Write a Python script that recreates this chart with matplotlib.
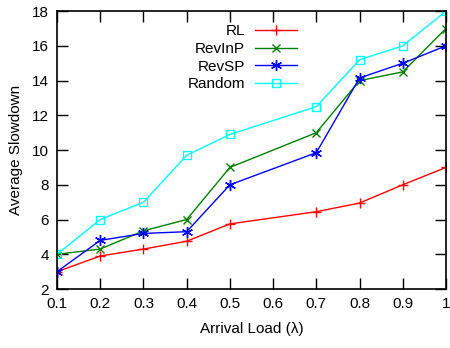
import matplotlib
matplotlib.use("Agg")
import matplotlib.pyplot as plt

plt.rcParams['font.family'] = ['Liberation Sans', 'DejaVu Sans']

x = [0.1, 0.2, 0.3, 0.4, 0.5, 0.7, 0.8, 0.9, 1.0]
rl = [3.0, 3.9, 4.3, 4.75, 5.75, 6.45, 6.95, 8.0, 9.0]
revinp = [4.0, 4.3, 5.35, 6.0, 9.0, 11.0, 14.0, 14.5, 17.0]
revsp = [3.0, 4.8, 5.2, 5.3, 8.0, 9.85, 14.15, 15.0, 16.0]
rnd = [4.0, 6.0, 7.0, 9.7, 10.9, 12.5, 15.2, 16.0, 18.0]
xticks = [0.1, 0.2, 0.3, 0.4, 0.5, 0.6, 0.7, 0.8, 0.9, 1.0]
xticklabels = ['0.1', '0.2', '0.3', '0.4', '0.5', '0.6', '0.7', '0.8', '0.9', '1']
yticks = [2, 4, 6, 8, 10, 12, 14, 16, 18]

fig = plt.figure(figsize=(4.5, 3.48), dpi=100)
ax = fig.add_axes([0.1267, 0.1695, 0.991 - 0.1267, 0.968 - 0.1695])

ax.plot(x, rl, color='#ff0000', marker='+', ms=7, mew=1.0, lw=1.0, label='RL')
ax.plot(x, revinp, color='#008000', marker='x', ms=6, mew=1.0, lw=1.0, label='RevInP')
ax.plot(x, revsp, color='#0000ff', marker=(6, 2, 0), ms=8, mew=1.0, lw=1.0, label='RevSP')
ax.plot(x, rnd, color='#00ffff', marker='s', ms=6, mew=1.0, mfc='none', lw=1.0, label='Random')

ax.set_xlim(0.1, 1.0)
ax.set_ylim(2, 18)
ax.set_xticks(xticks)
ax.set_xticklabels(xticklabels)
ax.set_yticks(yticks)
ax.tick_params(direction='in', length=8, width=1, top=True, right=True, labelsize=11, pad=6)
for s in ax.spines.values():
    s.set_linewidth(1.2)

ax.set_xlabel('Arrival Load (λ)', fontsize=11, labelpad=8)
ax.set_ylabel('Average Slowdown', fontsize=11, labelpad=6)

leg = ax.legend(loc='upper right', bbox_to_anchor=(0.617, 0.953), frameon=False, markerfirst=False,
                fontsize=11, handlelength=2.75, handletextpad=0.65, labelspacing=0.24,
                borderaxespad=0.0, borderpad=0.0)

fig.savefig('out.png', dpi=100)
